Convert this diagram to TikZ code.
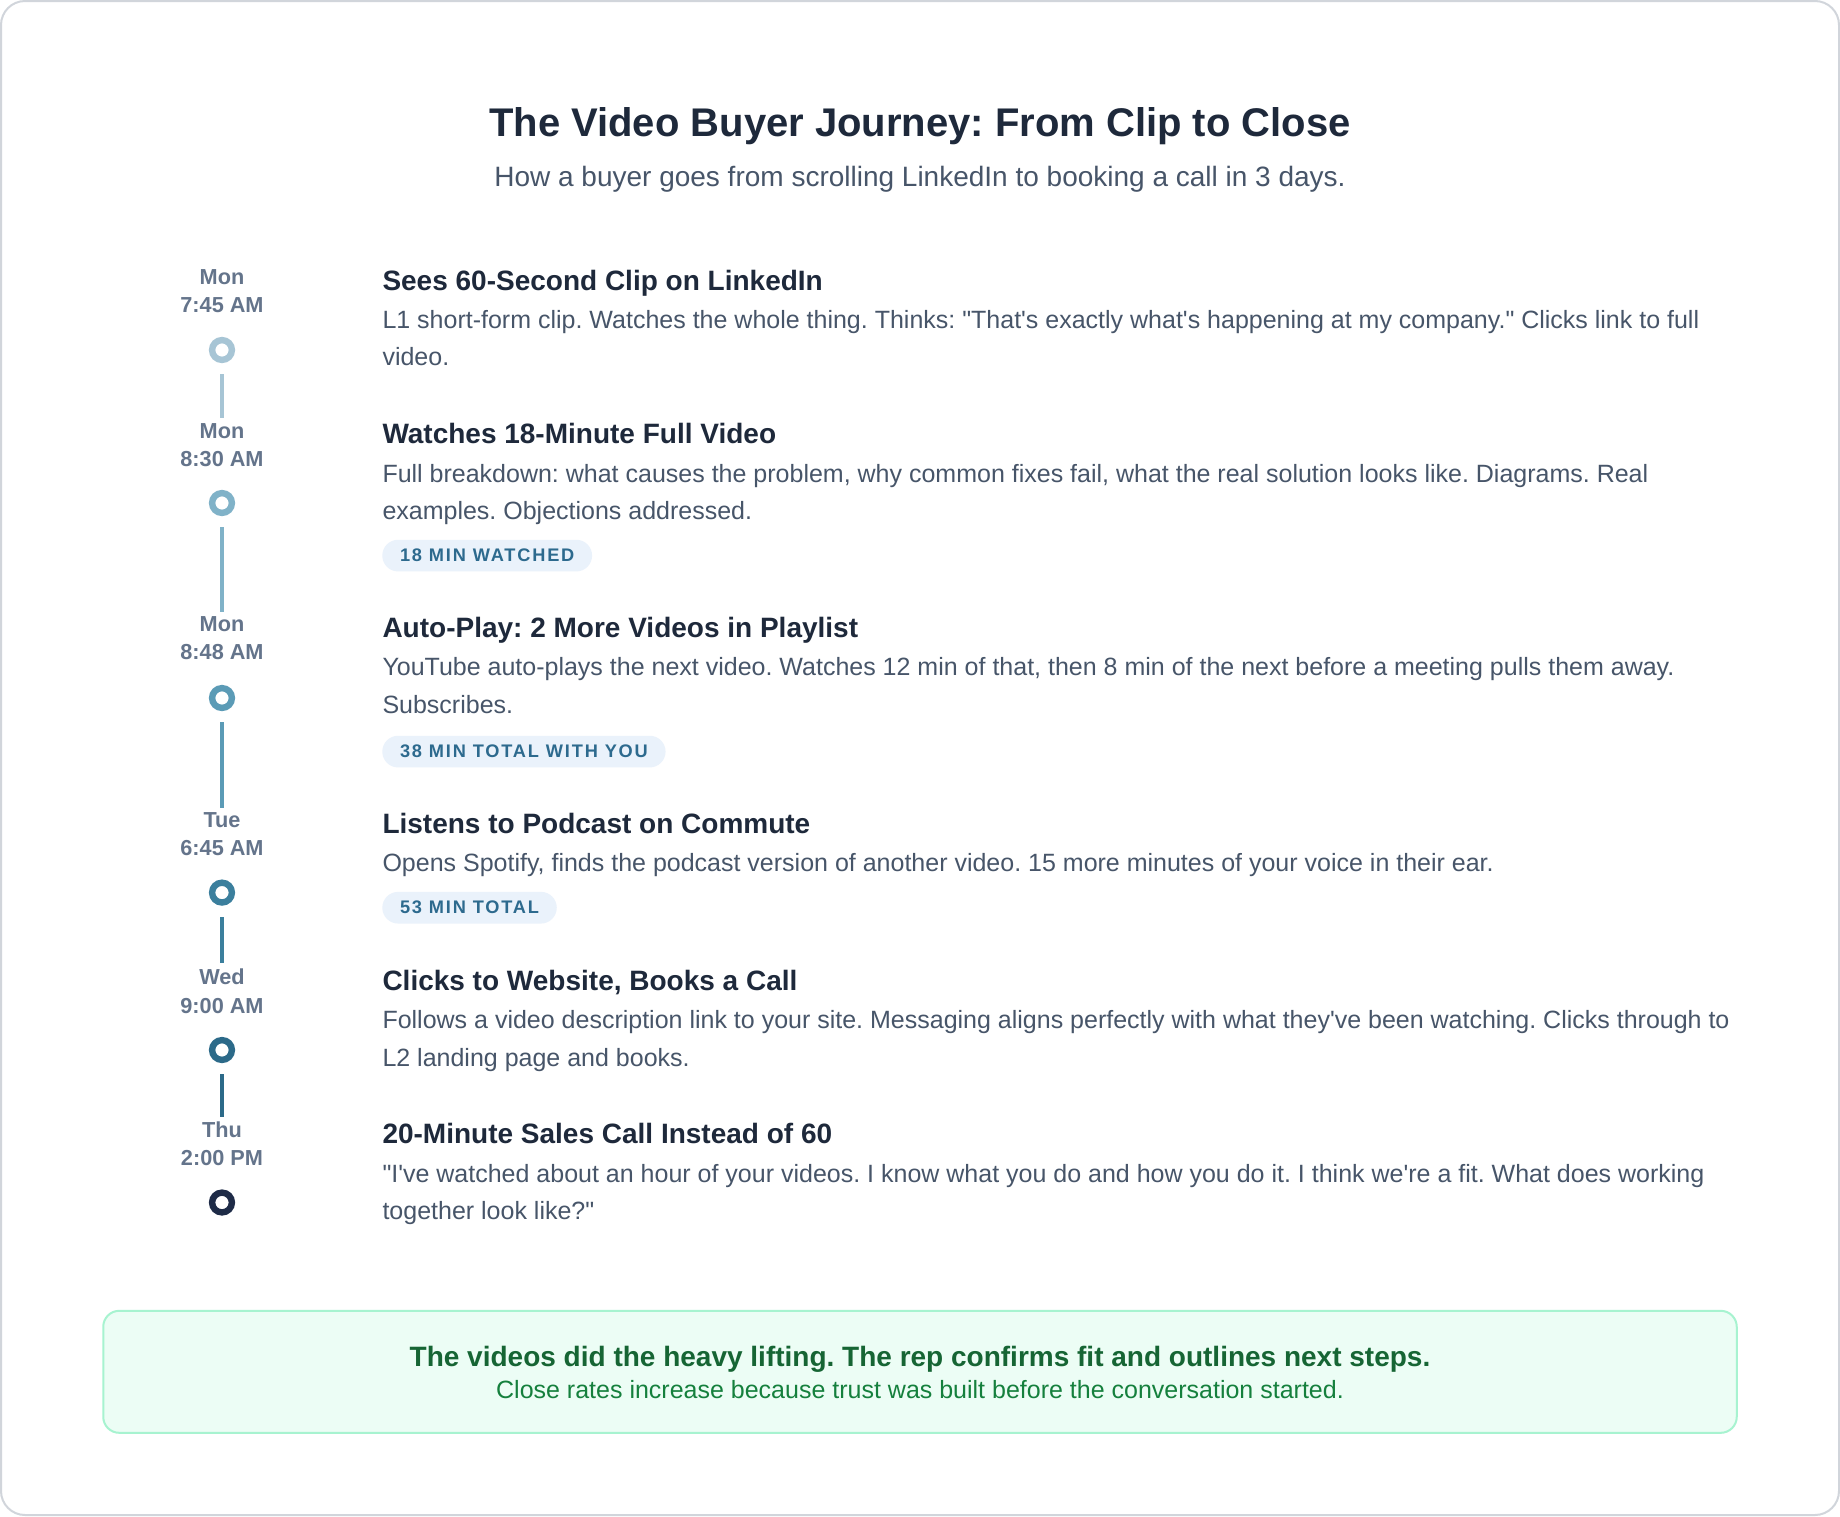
\documentclass[tikz,border=0pt]{standalone}
\usepackage{fontspec}
\setmainfont{Liberation Sans}[Ligatures=TeXOff]
\newfontfamily\badgefont{Liberation Sans}[LetterSpace=10,Ligatures=TeXOff]
\newcommand\setfs[1]{\fontsize{#1pt}{#1pt}\selectfont}
\frenchspacing
\definecolor{navy}{HTML}{1E293B}
\definecolor{slate}{HTML}{475569}
\definecolor{timec}{HTML}{64748B}
\definecolor{badgebg}{HTML}{EAF2FB}
\definecolor{badgetx}{HTML}{2D6A8E}
\definecolor{cA}{HTML}{A7C5D5}
\definecolor{cB}{HTML}{80B2C8}
\definecolor{cC}{HTML}{5B9BB6}
\definecolor{cD}{HTML}{3B7F9D}
\definecolor{cE}{HTML}{2C6A89}
\definecolor{cF}{HTML}{1E2B47}
\definecolor{framec}{HTML}{D1D5DB}
\definecolor{greenbg}{HTML}{ECFDF5}
\definecolor{greenbd}{HTML}{A7F3D0}
\definecolor{greendk}{HTML}{166534}
\definecolor{greenmd}{HTML}{15803D}
\begin{document}
\begin{tikzpicture}[x=1pt,y=-1pt,
  txt/.style={inner sep=0pt, outer sep=0pt, anchor=base west},
  timelbl/.style={inner sep=0pt, outer sep=0pt, anchor=base, text=timec, font=\setfs{21.7}\bfseries},
  ititle/.style={txt, text=navy, font=\setfs{28}\bfseries},
  desc/.style={txt, text=slate, font=\setfs{25}},
  badge/.style={anchor=west, fill=badgebg, text=badgetx, rounded corners=15.85pt, minimum height=31.7pt, inner xsep=17.7pt, inner ysep=0pt, outer sep=0pt, font=\badgefont\setfs{18.2}\bfseries},
  dot/.style={circle, draw=#1, line width=6.4pt, minimum size=19.8pt, inner sep=0pt, fill=white},
  conn/.style={line width=4pt, draw=#1, shorten <=11.3pt, shorten >=5pt},
]
\useasboundingbox (0,0) rectangle (1840,1516);
\draw[framec, line width=2pt, fill=white, rounded corners=24pt] (1,1) rectangle (1839,1515);

% header
\node[inner sep=0pt, anchor=base, text=navy, font=\setfs{40}\bfseries] (title) at (920,136.7) {The Video Buyer Journey: From Clip to Close};
\node[inner sep=0pt, anchor=base, text=slate, font=\setfs{28}] (subtitle) at (920,186) {How a buyer goes from scrolling LinkedIn to booking a call in 3 days.};

% item 1
\node[timelbl] (t1a) at (222,284.3) {Mon};
\node[timelbl] (t1b) at (222,312.3) {7:45 AM};
\node[dot=cA] (c1) at (222,350) {};
\node[ititle] (h1) at (382.5,290) {Sees 60-Second Clip on LinkedIn};
\node[desc] (d1a) at (382.5,328.3) {L1 short-form clip. Watches the whole thing. Thinks: "That's exactly what's happening at my company." Clicks link to full};
\node[desc] (d1b) at (382.5,365.7) {video.};

% item 2
\node[timelbl] (t2a) at (222,438) {Mon};
\node[timelbl] (t2b) at (222,466) {8:30 AM};
\node[dot=cB] (c2) at (222,503) {};
\node[ititle] (h2) at (382.5,443.7) {Watches 18-Minute Full Video};
\node[desc] (d2a) at (382.5,482) {Full breakdown: what causes the problem, why common fixes fail, what the real solution looks like. Diagrams. Real};
\node[desc] (d2b) at (382.5,519.4) {examples. Objections addressed.};
\node[badge] (b2) at (382.3,555.6) {18 MIN WATCHED};

% item 3
\node[timelbl] (t3a) at (222,631.6) {Mon};
\node[timelbl] (t3b) at (222,659.6) {8:48 AM};
\node[dot=cC] (c3) at (222,698) {};
\node[ititle] (h3) at (382.5,637.3) {Auto-Play: 2 More Videos in Playlist};
\node[desc] (d3a) at (382.5,675.6) {YouTube auto-plays the next video. Watches 12 min of that, then 8 min of the next before a meeting pulls them away.};
\node[desc] (d3b) at (382.5,713) {Subscribes.};
\node[badge] (b3) at (382.3,751.6) {38 MIN TOTAL WITH YOU};

% item 4
\node[timelbl] (t4a) at (222,827.8) {Tue};
\node[timelbl] (t4b) at (222,855.8) {6:45 AM};
\node[dot=cD] (c4) at (222,892.6) {};
\node[ititle] (h4) at (382.5,833.5) {Listens to Podcast on Commute};
\node[desc] (d4a) at (382.5,871.8) {Opens Spotify, finds the podcast version of another video. 15 more minutes of your voice in their ear.};
\node[badge] (b4) at (382.3,907.7) {53 MIN TOTAL};

% item 5
\node[timelbl] (t5a) at (222,984) {Wed};
\node[timelbl] (t5b) at (222,1013) {9:00 AM};
\node[dot=cE] (c5) at (222,1050) {};
\node[ititle] (h5) at (382.5,990.3) {Clicks to Website, Books a Call};
\node[desc] (d5a) at (382.5,1028.6) {Follows a video description link to your site. Messaging aligns perfectly with what they've been watching. Clicks through to};
\node[desc] (d5b) at (382.5,1066) {L2 landing page and books.};

% item 6
\node[timelbl] (t6a) at (222,1137.8) {Thu};
\node[timelbl] (t6b) at (222,1165.8) {2:00 PM};
\node[dot=cF] (c6) at (222,1202.5) {};
\node[ititle] (h6) at (382.5,1143.8) {20-Minute Sales Call Instead of 60};
\node[desc] (d6a) at (382.5,1182.1) {"I've watched about an hour of your videos. I know what you do and how you do it. I think we're a fit. What does working};
\node[desc] (d6b) at (382.5,1219.5) {together look like?"};

% connectors
\draw[conn=cA] (c1.south) -- (t2a.north);
\draw[conn=cB] (c2.south) -- (t3a.north);
\draw[conn=cC] (c3.south) -- (t4a.north);
\draw[conn=cD] (c4.south) -- (t5a.north);
\draw[conn=cE] (c5.south) -- (t6a.north);

% summary box
\node[draw=greenbd, fill=greenbg, line width=2pt, rounded corners=16pt, minimum width=1633.5pt, minimum height=122pt, inner sep=0pt] (summary) at (920,1371.8) {};
\node[inner sep=0pt, anchor=base, text=greendk, font=\setfs{28}\bfseries] (s1) at (920,1366) {The videos did the heavy lifting. The rep confirms fit and outlines next steps.};
\node[inner sep=0pt, anchor=base, text=greenmd, font=\setfs{25}] (s2) at (920,1398.6) {Close rates increase because trust was built before the conversation started.};
\end{tikzpicture}
\end{document}
